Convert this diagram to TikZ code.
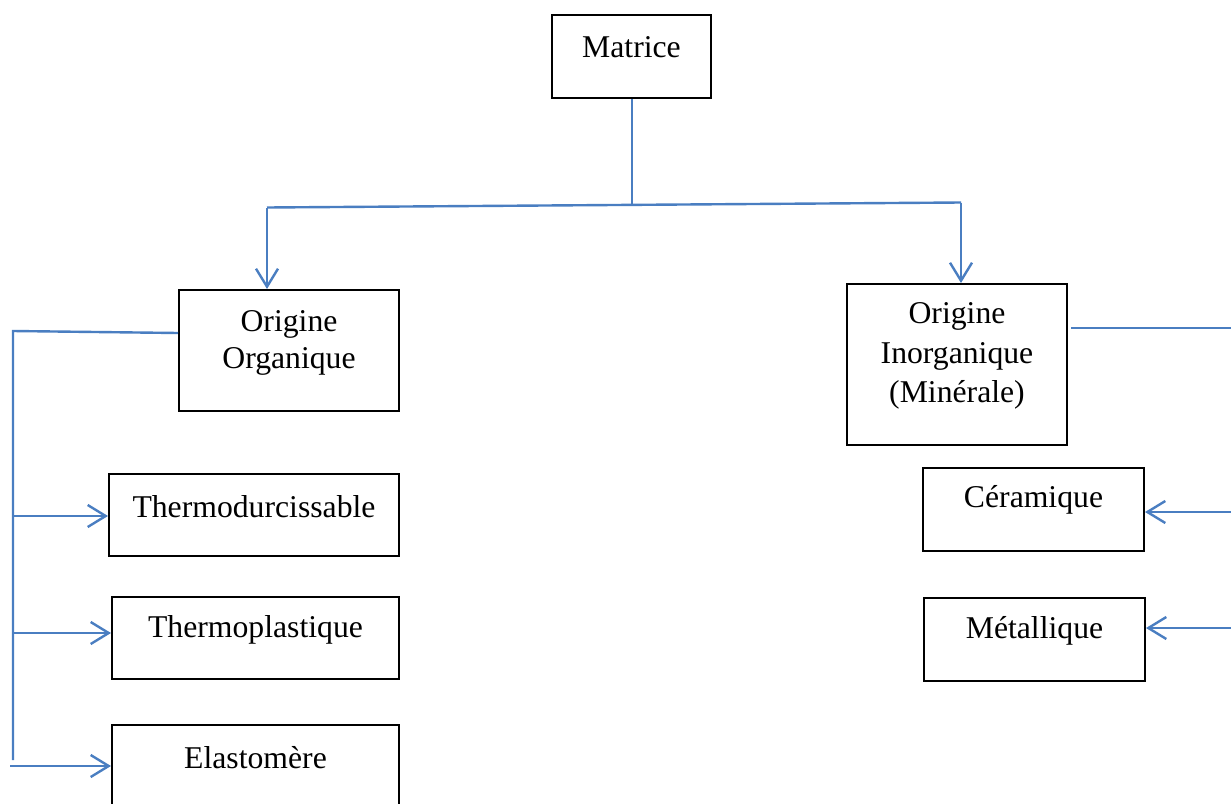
\documentclass[tikz,border=0pt]{standalone}
\usepackage{fontspec}
\setmainfont{Liberation Serif}
\usetikzlibrary{arrows.meta}
\definecolor{linkblue}{RGB}{74,126,193}
\tikzset{
  box/.style={draw=black, line width=2pt, inner sep=0pt, minimum width=#1},
  lbl/.style={inner sep=0pt, align=center, font=\fontsize{31.7}{36.5}\selectfont},
  link/.style={draw=linkblue, line width=2.4pt},
  tip/.style={link, -{Straight Barb[length=18pt, width=22pt, line width=2.4pt]}}
}
\begin{document}
\begin{tikzpicture}[x=1pt, y=-1pt]
\useasboundingbox (0,0) rectangle (1231,803);

% boxes
\node[box=159pt, minimum height=83pt] (matrice) at (631.5,56.5) {};
\node[box=220pt, minimum height=121pt] (org) at (289,350.5) {};
\node[box=220pt, minimum height=161pt] (inorg) at (957,364.5) {};
\node[box=290pt, minimum height=82pt] (thd) at (254,515) {};
\node[box=287pt, minimum height=82pt] (thp) at (255.5,638) {};
\node[box=287pt, minimum height=82pt] (ela) at (255.5,766) {};
\node[box=221pt, minimum height=83pt] (cer) at (1033.5,509.5) {};
\node[box=221pt, minimum height=83pt] (met) at (1034.5,639.5) {};

% texts
\node[lbl] (tmatrice) at (631.5,47) {Matrice};
\node[lbl] (torg) at (289,343) {Origine\\Organique};
\node[lbl, font=\fontsize{31.7}{39.5}\selectfont] (tinorg) at (957,356) {Origine\\Inorganique\\(Minérale)};
\node[lbl] (tthd) at (254,507) {Thermodurcissable};
\node[lbl] (tthp) at (255.5,630) {Thermoplastique};
\node[lbl] (tela) at (255.5,758) {Elastomère};
\node[lbl] (tcer) at (1033.5,500) {Céramique};
\node[lbl] (tmet) at (1034.5,631) {Métallique};

% junction points
\coordinate (mj) at (632,203.5);
\coordinate (jl) at (267,207.5);
\coordinate (jr) at (961,202.5);
\coordinate (lt) at (13,331);
\coordinate (lb) at (13,760);
\coordinate (l1) at (13,516);
\coordinate (l2) at (13,633);
\coordinate (l3) at (10,766);
\coordinate (rt) at (1231,328);
\coordinate (r1) at (1231,512);
\coordinate (r2) at (1231,628);

% top branch
\draw[link] (matrice.south -| mj) -- (mj);
\draw[link] (jl) -- (jr);
\draw[tip] (jl) -- (jl |- org.north);
\draw[tip] (jr) -- (jr |- inorg.north);

% left branch
\draw[link] (org.west |- 0,333) -- (lt) -- (lb);
\draw[tip] (l1) -- (l1 -| thd.west);
\draw[tip] (l2) -- (l2 -| thp.west);
\draw[tip] (l3) -- (l3 -| ela.west);

% right branch
\draw[link] ([xshift=3pt]inorg.east |- rt) -- (rt);
\draw[tip] (r1) -- (r1 -| cer.east);
\draw[tip] (r2) -- (r2 -| met.east);
\end{tikzpicture}
\end{document}
